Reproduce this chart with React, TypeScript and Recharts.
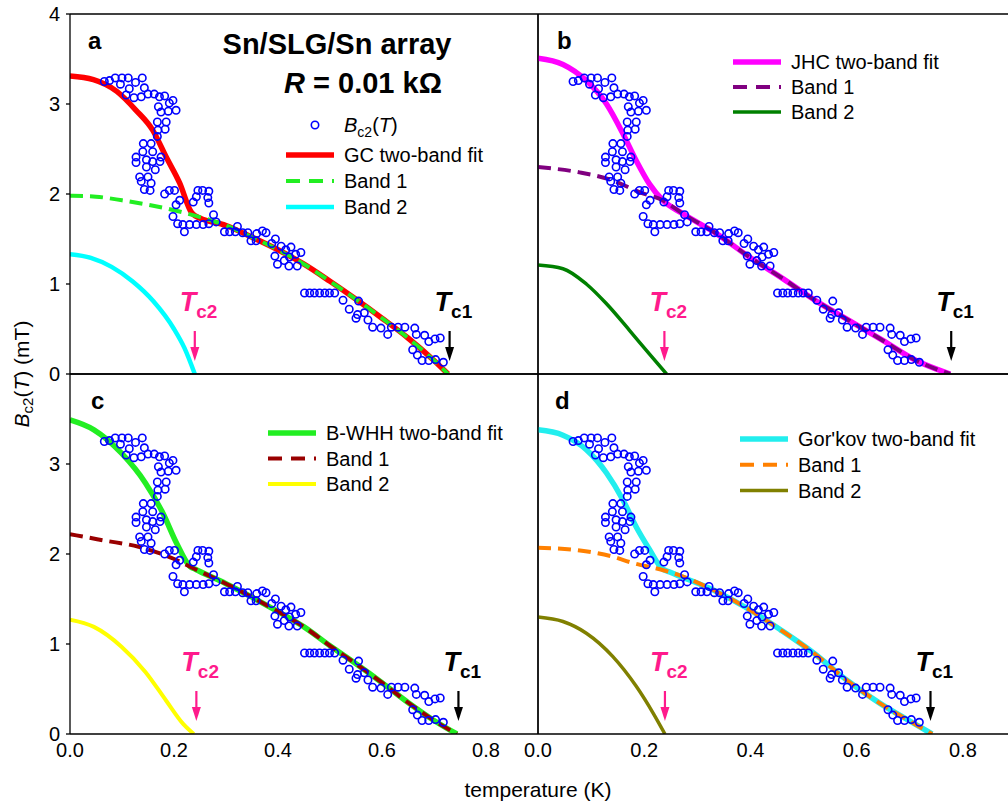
import React from 'react';
import { ComposedChart, Line, Scatter, XAxis, YAxis, ReferenceDot } from 'recharts';

const FONT = '"Liberation Sans", Arial, Helvetica, sans-serif';

// ---------- data ----------
const xTicks = [0, 0.2, 0.4, 0.6, 0.8];
const yTicksFull = [0, 1, 2, 3, 4];
const yTicksLower = [0, 1, 2, 3];

// measured Bc2(T) points: [T (K), B (mT)]
const measured: [number, number][] = [
  [0.066, 3.25], [0.076, 3.26], [0.087, 3.29], [0.097, 3.22], [0.1, 3.29], [0.112, 3.29], [0.114, 3.17], [0.126, 3.24], [0.139, 3.29], [0.143, 3.18],
  [0.108, 3.1], [0.123, 3.07], [0.137, 3.08], [0.15, 3.11], [0.162, 3.11], [0.172, 3.08], [0.182, 3.09], [0.191, 3.01], [0.198, 3.04], [0.204, 2.93],
  [0.17, 2.97], [0.175, 2.91], [0.189, 2.92], [0.168, 2.8], [0.185, 2.8], [0.169, 2.71], [0.183, 2.72], [0.168, 2.64],
  [0.141, 2.56], [0.156, 2.56], [0.159, 2.47], [0.14, 2.47], [0.127, 2.41], [0.127, 2.35], [0.147, 2.38], [0.159, 2.36], [0.173, 2.36], [0.175, 2.41],
  [0.147, 2.3], [0.164, 2.27], [0.134, 2.19], [0.15, 2.19], [0.137, 2.14], [0.156, 2.12], [0.143, 2.05], [0.154, 2.04],
  [0.182, 2.0], [0.191, 2.04], [0.201, 2.04], [0.211, 1.93], [0.204, 1.88], [0.198, 1.75], [0.207, 1.67], [0.22, 1.58], [0.217, 1.66],
  [0.23, 1.66], [0.243, 1.66], [0.256, 1.66], [0.267, 1.67],
  [0.246, 2.04], [0.255, 2.04], [0.267, 2.03], [0.265, 1.96], [0.267, 1.9], [0.243, 1.97], [0.237, 1.91], [0.276, 1.77], [0.281, 1.69],
  [0.297, 1.58], [0.307, 1.58], [0.318, 1.58], [0.322, 1.64], [0.332, 1.57], [0.342, 1.57], [0.348, 1.48], [0.358, 1.48], [0.359, 1.56],
  [0.37, 1.59], [0.377, 1.57],
  [0.388, 1.45], [0.395, 1.5], [0.406, 1.42], [0.394, 1.31], [0.399, 1.22], [0.412, 1.26], [0.421, 1.2], [0.437, 1.2], [0.415, 1.38],
  [0.425, 1.41], [0.434, 1.33], [0.444, 1.35], [0.422, 1.3],
  [0.451, 0.9], [0.461, 0.9], [0.47, 0.9], [0.48, 0.9], [0.49, 0.9], [0.499, 0.9], [0.509, 0.9],
  [0.525, 0.82], [0.537, 0.72], [0.555, 0.81], [0.553, 0.66], [0.566, 0.68], [0.55, 0.62], [0.573, 0.6], [0.582, 0.52], [0.598, 0.51],
  [0.611, 0.44], [0.618, 0.52], [0.631, 0.52], [0.644, 0.52], [0.663, 0.51],
  [0.666, 0.44], [0.682, 0.43], [0.69, 0.36], [0.702, 0.39], [0.712, 0.4], [0.659, 0.27], [0.668, 0.21], [0.677, 0.15], [0.69, 0.15],
  [0.703, 0.16], [0.718, 0.13],
];

// (a) GC model
const gcFit: [number, number][] = [
  [0, 3.31], [0.045, 3.27], [0.09, 3.14], [0.127, 2.93], [0.159, 2.71], [0.185, 2.41], [0.211, 2.12], [0.233, 1.8], [0.24, 1.76],
  [0.3, 1.65], [0.35, 1.52], [0.4, 1.38], [0.45, 1.22], [0.5, 1.03], [0.55, 0.83], [0.6, 0.62], [0.65, 0.4], [0.7, 0.15], [0.727, 0],
];
const gcBand1: [number, number][] = [
  [0, 1.98], [0.05, 1.97], [0.1, 1.93], [0.15, 1.88], [0.2, 1.82], [0.24, 1.76],
  [0.3, 1.65], [0.35, 1.52], [0.4, 1.38], [0.45, 1.22], [0.5, 1.03], [0.55, 0.83], [0.6, 0.62], [0.65, 0.4], [0.7, 0.15], [0.727, 0],
];
const gcBand2: [number, number][] = [
  [0, 1.33], [0.04, 1.29], [0.08, 1.19], [0.12, 1.03], [0.16, 0.81], [0.2, 0.5], [0.22, 0.29], [0.24, 0],
];

// (b) JHC model
const jhcFit: [number, number][] = [
  [0, 3.51], [0.047, 3.44], [0.091, 3.26], [0.129, 3.0], [0.16, 2.67], [0.185, 2.37], [0.21, 2.11], [0.235, 1.93], [0.273, 1.78],
  [0.336, 1.56], [0.398, 1.3], [0.461, 1.06], [0.524, 0.81], [0.587, 0.59], [0.65, 0.37], [0.712, 0.15], [0.776, 0],
];
const jhcBand1: [number, number][] = [
  [0, 2.3], [0.078, 2.24], [0.141, 2.15], [0.191, 2.02], [0.235, 1.93], [0.273, 1.78],
  [0.336, 1.56], [0.398, 1.3], [0.461, 1.06], [0.524, 0.81], [0.587, 0.59], [0.65, 0.37], [0.712, 0.15], [0.776, 0],
];
const jhcBand2: [number, number][] = [
  [0, 1.21], [0.047, 1.17], [0.091, 1.0], [0.129, 0.78], [0.173, 0.48], [0.21, 0.22], [0.242, 0],
];

// (c) B-WHH model
const bwhhFit: [number, number][] = [
  [0, 3.49], [0.046, 3.38], [0.099, 3.12], [0.145, 2.79], [0.179, 2.45], [0.205, 2.12], [0.231, 1.86], [0.241, 1.83],
  [0.3, 1.67], [0.35, 1.52], [0.4, 1.36], [0.45, 1.19], [0.5, 0.98], [0.55, 0.78], [0.6, 0.57], [0.65, 0.35], [0.7, 0.15], [0.744, 0],
];
const bwhhBand1: [number, number][] = [
  [0, 2.22], [0.066, 2.15], [0.132, 2.08], [0.198, 1.95], [0.241, 1.83],
  [0.3, 1.67], [0.35, 1.52], [0.4, 1.36], [0.45, 1.19], [0.5, 0.98], [0.55, 0.78], [0.6, 0.57], [0.65, 0.35], [0.7, 0.15], [0.744, 0],
];
const bwhhBand2: [number, number][] = [
  [0, 1.27], [0.046, 1.19], [0.099, 0.97], [0.145, 0.69], [0.185, 0.37], [0.218, 0.11], [0.238, 0],
];

// (d) Gor'kov model
const gorkovFit: [number, number][] = [
  [0, 3.38], [0.047, 3.32], [0.091, 3.16], [0.129, 2.9], [0.16, 2.6], [0.185, 2.3], [0.211, 2.04], [0.233, 1.84], [0.248, 1.8],
  [0.33, 1.6], [0.393, 1.4], [0.456, 1.16], [0.519, 0.9], [0.581, 0.6], [0.644, 0.34], [0.707, 0.12], [0.742, 0],
];
const gorkovBand1: [number, number][] = [
  [0, 2.07], [0.079, 2.04], [0.141, 1.97], [0.173, 1.91], [0.236, 1.82], [0.248, 1.8],
  [0.33, 1.6], [0.393, 1.4], [0.456, 1.16], [0.519, 0.9], [0.581, 0.6], [0.644, 0.34], [0.707, 0.12], [0.742, 0],
];
const gorkovBand2: [number, number][] = [
  [0, 1.3], [0.047, 1.25], [0.091, 1.12], [0.141, 0.86], [0.185, 0.53], [0.217, 0.23], [0.239, 0],
];

// critical temperature markers per panel (a, b, c, d)
const tc1Marks = [0.73, 0.778, 0.747, 0.739];
const tc2Marks = [0.24, 0.238, 0.243, 0.239];
const panelLetters = ['a', 'b', 'c', 'd'];
const fitNames = ['GC two-band fit', 'JHC two-band fit', 'B-WHH two-band fit', "Gor'kov two-band fit"];

// ---------- helpers ----------
const rows = (pts: [number, number][]) => pts.map(([t, b]) => ({ t, b }));
const measuredRows = rows(measured);

type Curve = { pts: [number, number][]; color: string; width: number; dash?: string };
type PanelCfg = {
  left: number; top: number; plotW: number; showX: boolean; showY: boolean; yTicks: number[];
  fit: Curve; band1: Curve; band2: Curve; idx: number;
};

const H = 424; // chart height
const PLOT_H = 360;

const panels: PanelCfg[] = [
  { idx: 0, left: 0, top: 0, plotW: 468, showX: false, showY: true, yTicks: yTicksFull,
    fit: { pts: gcFit, color: '#ff0000', width: 5.5 },
    band1: { pts: gcBand1, color: '#22ee22', width: 4, dash: '13 7' },
    band2: { pts: gcBand2, color: '#00ffff', width: 4.5 } },
  { idx: 1, left: 468, top: 0, plotW: 478, showX: false, showY: false, yTicks: yTicksFull,
    fit: { pts: jhcFit, color: '#ff00ff', width: 5.5 },
    band1: { pts: jhcBand1, color: '#800080', width: 4, dash: '13 7' },
    band2: { pts: jhcBand2, color: '#008000', width: 3.5 } },
  { idx: 2, left: 0, top: 360, plotW: 468, showX: true, showY: true, yTicks: yTicksLower,
    fit: { pts: bwhhFit, color: '#22ee22', width: 5.5 },
    band1: { pts: bwhhBand1, color: '#990000', width: 4, dash: '13 7' },
    band2: { pts: bwhhBand2, color: '#ffff00', width: 4 } },
  { idx: 3, left: 468, top: 360, plotW: 478, showX: true, showY: false, yTicks: yTicksFull,
    fit: { pts: gorkovFit, color: '#22eeee', width: 5.5 },
    band1: { pts: gorkovBand1, color: '#ff8000', width: 4, dash: '13 7' },
    band2: { pts: gorkovBand2, color: '#808000', width: 3.5 } },
];

const ring = (props: any) => {
  const { cx, cy } = props;
  if (cx == null || cy == null) return <g />;
  return <circle cx={cx} cy={cy} r={3.7} fill="none" stroke="#0000ff" strokeWidth={1.6} />;
};

const arrowShape = (color: string, sub: string) => (props: any) => {
  const { cx, cy } = props;
  if (cx == null || cy == null) return <g />;
  return (
    <g>
      <line x1={cx} y1={cy - 43} x2={cx} y2={cy - 24} stroke={color} strokeWidth={2.2} />
      <polygon points={`${cx - 4.5},${cy - 27} ${cx + 4.5},${cy - 27} ${cx},${cy - 13}`} fill={color} />
      <text x={cx - 15} y={cy - 63} fill={color} fontFamily={FONT} fontWeight="bold">
        <tspan fontStyle="italic" fontSize={27}>T</tspan>
        <tspan fontSize={19} dy={7}>{sub}</tspan>
      </text>
    </g>
  );
};

const axisStroke = { stroke: '#000', strokeWidth: 1.3 };
const tickFont = { fill: '#000', fontSize: 20, fontFamily: FONT };

function Panel({ cfg }: { cfg: PanelCfg }) {
  const W = 70 + cfg.plotW + 2;
  const curve = (c: Curve, key: string) => (
    <Line
      key={key}
      xAxisId="x"
      yAxisId="y"
      data={rows(c.pts)}
      dataKey="b"
      type="monotone"
      stroke={c.color}
      strokeWidth={c.width}
      strokeDasharray={c.dash}
      dot={false}
      activeDot={false}
      isAnimationActive={false}
    />
  );
  return (
    <div style={{ position: 'absolute', left: cfg.left, top: cfg.top, width: W, height: H }}>
      <ComposedChart width={W} height={H} margin={{ top: 14, right: 2, bottom: H - 14 - PLOT_H - 40, left: 10 }}>
        <XAxis
          xAxisId="x" dataKey="t" type="number" domain={[0, 0.9]} ticks={xTicks} interval={0}
          orientation="bottom" height={40} allowDataOverflow
          tickLine={false} tickSize={0} tickMargin={9}
          tick={cfg.showX ? tickFont : false}
          tickFormatter={(v: number) => v.toFixed(1)}
          axisLine={axisStroke}
        />
        <XAxis
          xAxisId="xb" type="number" domain={[0, 0.9]} ticks={xTicks} interval={0}
          orientation="bottom" mirror tick={false} tickSize={6} axisLine={false} tickLine={axisStroke}
        />
        <XAxis
          xAxisId="xt" type="number" domain={[0, 0.9]} ticks={xTicks} interval={0}
          orientation="top" mirror tick={false} tickSize={7} axisLine={axisStroke} tickLine={axisStroke}
        />
        <YAxis
          yAxisId="y" dataKey="b" type="number" domain={[0, 4]} ticks={cfg.yTicks} interval={0}
          orientation="left" width={60} allowDataOverflow
          tickSize={cfg.showY ? 4 : 0} tickMargin={6} tickLine={cfg.showY ? axisStroke : false}
          tick={cfg.showY ? tickFont : false}
          axisLine={axisStroke}
        />
        {!cfg.showY && (
          <YAxis
            yAxisId="yl" type="number" domain={[0, 4]} ticks={yTicksFull} interval={0}
            orientation="left" mirror tick={false} tickSize={7} axisLine={false} tickLine={axisStroke}
          />
        )}
        <YAxis
          yAxisId="yr" type="number" domain={[0, 4]} ticks={yTicksFull} interval={0}
          orientation="right" mirror tick={false} tickSize={7} axisLine={axisStroke} tickLine={axisStroke}
        />
        <Scatter xAxisId="x" yAxisId="y" data={measuredRows} dataKey="b" shape={ring} isAnimationActive={false} />
        {curve(cfg.band2, 'band2')}
        {curve(cfg.fit, 'fit')}
        {curve(cfg.band1, 'band1')}
        <ReferenceDot xAxisId="x" yAxisId="y" x={tc2Marks[cfg.idx]} y={0} ifOverflow="visible" shape={arrowShape('#ff1a8c', 'c2')} />
        <ReferenceDot xAxisId="x" yAxisId="y" x={tc1Marks[cfg.idx]} y={0} ifOverflow="visible" shape={arrowShape('#000000', 'c1')} />
      </ComposedChart>
    </div>
  );
}

type LegendRow = { kind: 'ring' | 'line'; color?: string; width?: number; dash?: string; label: React.ReactNode };

function LegendBlock({ x, y, gap, items }: { x: number; y: number; gap: number; items: LegendRow[] }) {
  return (
    <g>
      {items.map((it, i) => {
        const cy = y + i * gap;
        return (
          <g key={i}>
            {it.kind === 'ring' ? (
              <circle cx={x + 29} cy={cy} r={3.7} fill="none" stroke="#0000ff" strokeWidth={1.6} />
            ) : (
              <line x1={x} x2={x + 48} y1={cy} y2={cy} stroke={it.color} strokeWidth={it.width} strokeDasharray={it.dash} />
            )}
            <text x={x + 58} y={cy + 7} fontSize={20} fontFamily={FONT} fill="#000">{it.label}</text>
          </g>
        );
      })}
    </g>
  );
}

const legendRows = (p: PanelCfg): LegendRow[] => [
  { kind: 'line', color: p.fit.color, width: 5.5, label: fitNames[p.idx] },
  { kind: 'line', color: p.band1.color, width: 4, dash: '14 9', label: 'Band 1' },
  { kind: 'line', color: p.band2.color, width: p.band2.width, label: 'Band 2' },
];

export default function App() {
  const letterPos = [[88, 49], [557, 49], [91, 409], [555, 409]];
  return (
    <div style={{ position: 'absolute', left: 0, top: 0, width: 1008, height: 807, overflow: 'hidden', background: '#fff' }}>
      {panels.map((p) => (
        <Panel key={p.idx} cfg={p} />
      ))}
      <svg width={1008} height={807} style={{ position: 'absolute', left: 0, top: 0, pointerEvents: 'none' }}>
        {panelLetters.map((l, i) => (
          <text key={l} x={letterPos[i][0]} y={letterPos[i][1]} fontSize={24} fontWeight="bold" fontFamily={FONT}>{l}</text>
        ))}
        <text x={337} y={54} fontSize={29} fontWeight="bold" fontFamily={FONT} textAnchor="middle">Sn/SLG/Sn array</text>
        <text x={284} y={93} fontSize={29} fontWeight="bold" fontFamily={FONT}>
          <tspan fontStyle="italic">R</tspan> = 0.01 kΩ
        </text>
        <LegendBlock
          x={286} y={125} gap={27}
          items={[
            {
              kind: 'ring',
              label: (
                <>
                  <tspan fontStyle="italic">B</tspan>
                  <tspan fontSize={14} dy={5}>c2</tspan>
                  <tspan dy={-5}>(</tspan>
                  <tspan fontStyle="italic">T</tspan>
                  <tspan>)</tspan>
                </>
              ),
            },
          ]}
        />
        <LegendBlock x={286} y={155} gap={26} items={legendRows(panels[0])} />
        <LegendBlock x={733} y={62} gap={25} items={legendRows(panels[1])} />
        <LegendBlock x={268} y={433} gap={25.5} items={legendRows(panels[2])} />
        <LegendBlock x={740} y={439} gap={25.8} items={legendRows(panels[3])} />
        <text x={538} y={797} fontSize={21} fontFamily={FONT} textAnchor="middle">temperature (K)</text>
        <text transform="translate(29,374) rotate(-90)" fontSize={21} fontFamily={FONT} textAnchor="middle">
          <tspan fontStyle="italic">B</tspan>
          <tspan fontSize={15} dy={4}>c2</tspan>
          <tspan dy={-4}>(</tspan>
          <tspan fontStyle="italic">T</tspan>
          <tspan>) (mT)</tspan>
        </text>
      </svg>
    </div>
  );
}
